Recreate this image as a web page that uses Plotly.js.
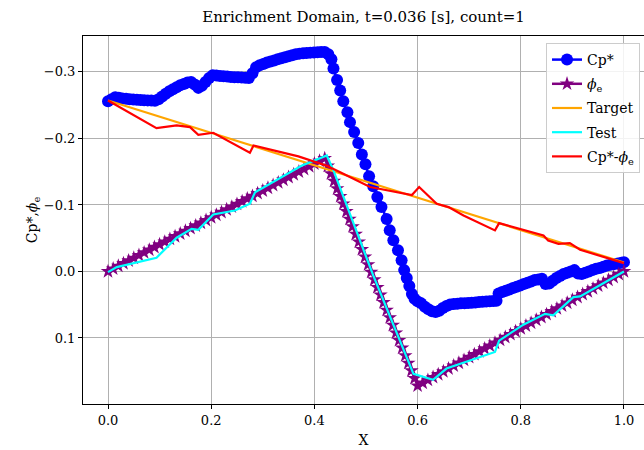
<!DOCTYPE html>
<html>
<head>
<meta charset="utf-8">
<script src="https://cdn.plot.ly/plotly-3.0.1.min.js"></script>
<style>
html,body{margin:0;padding:0;overflow:hidden;background:#fff;}
#chart{width:644px;height:450px;}
</style>
</head>
<body>
<div id="chart"></div>
<script>
// ---- Data ----
const cpX = [0.000,0.007,0.014,0.021,0.028,0.035,0.042,0.049,0.056,0.063,0.070,0.077,0.084,0.091,0.098,0.105,0.112,0.119,0.126,0.133,0.140,0.147,0.154,0.161,0.168,0.175,0.182,0.189,0.196,0.203,0.210,0.217,0.224,0.231,0.238,0.245,0.252,0.259,0.266,0.273,0.280,0.287,0.294,0.301,0.308,0.315,0.322,0.329,0.336,0.343,0.350,0.357,0.364,0.371,0.378,0.385,0.392,0.399,0.406,0.413,0.420,0.427,0.433,0.437,0.444,0.450,0.456,0.464,0.469,0.477,0.485,0.492,0.499,0.506,0.514,0.522,0.530,0.540,0.546,0.553,0.562,0.569,0.574,0.579,0.584,0.589,0.594,0.600,0.607,0.614,0.621,0.628,0.635,0.642,0.649,0.656,0.663,0.670,0.677,0.684,0.691,0.698,0.705,0.712,0.719,0.726,0.733,0.740,0.747,0.753,0.757,0.764,0.771,0.778,0.785,0.792,0.799,0.806,0.813,0.820,0.827,0.834,0.841,0.848,0.855,0.862,0.869,0.876,0.883,0.890,0.897,0.904,0.911,0.918,0.925,0.932,0.939,0.946,0.953,0.960,0.967,0.974,0.981,0.988,0.995,1.000];
const cpY = [-0.256,-0.259,-0.262,-0.261,-0.260,-0.2595,-0.259,-0.2585,-0.258,-0.2578,-0.2575,-0.2572,-0.257,-0.2565,-0.259,-0.263,-0.267,-0.271,-0.274,-0.277,-0.280,-0.282,-0.284,-0.285,-0.281,-0.276,-0.279,-0.285,-0.291,-0.295,-0.2945,-0.294,-0.2935,-0.293,-0.2925,-0.292,-0.2918,-0.2915,-0.2912,-0.291,-0.298,-0.307,-0.310,-0.312,-0.314,-0.3155,-0.317,-0.319,-0.3205,-0.322,-0.3235,-0.325,-0.3265,-0.3275,-0.328,-0.3285,-0.329,-0.3292,-0.3295,-0.3298,-0.330,-0.3265,-0.319,-0.305,-0.288,-0.272,-0.256,-0.2395,-0.2245,-0.2095,-0.193,-0.176,-0.161,-0.143,-0.128,-0.112,-0.097,-0.079,-0.062,-0.047,-0.032,-0.017,-0.002,0.010,0.022,0.034,0.041,0.045,0.048,0.053,0.057,0.060,0.061,0.059,0.055,0.052,0.0496,0.049,0.0485,0.048,0.0478,0.0475,0.047,0.0466,0.046,0.0456,0.0452,0.0448,0.0445,0.044,0.033,0.031,0.029,0.027,0.025,0.023,0.021,0.019,0.017,0.015,0.013,0.012,0.011,0.019,0.018,0.014,0.010,0.007,0.004,0.002,0.000,-0.002,0.003,0.004,0.002,0.000,-0.002,-0.004,-0.005,-0.007,-0.009,-0.010,-0.011,-0.012,-0.013,-0.014];

const phiX = [0.00,0.01,0.02,0.03,0.04,0.05,0.06,0.07,0.08,0.09,0.10,0.11,0.12,0.13,0.14,0.15,0.16,0.17,0.18,0.19,0.20,0.21,0.22,0.23,0.24,0.25,0.26,0.27,0.28,0.29,0.30,0.31,0.32,0.33,0.34,0.35,0.36,0.37,0.38,0.39,0.40,0.41,0.42,
  0.426,0.432,0.438,0.444,0.450,0.456,0.462,0.468,0.474,0.480,0.486,0.492,0.498,0.504,0.510,0.516,0.522,0.528,0.534,0.540,0.546,0.552,0.558,0.564,0.570,0.576,0.582,0.588,0.594,0.600,
  0.61,0.62,0.63,0.64,0.65,0.66,0.67,0.68,0.69,0.70,0.71,0.72,0.73,0.74,0.75,0.76,0.77,0.78,0.79,0.80,0.81,0.82,0.83,0.84,0.85,0.86,0.87,0.88,0.89,0.90,0.91,0.92,0.93,0.94,0.95,0.96,0.97,0.98,0.99,1.00];
const phiY = [0,-0.0040,-0.0081,-0.0121,-0.0162,-0.0202,-0.0243,-0.0283,-0.0324,-0.0364,-0.0405,-0.0445,-0.0486,-0.0526,-0.0567,-0.0607,-0.0648,-0.0688,-0.0729,-0.0769,-0.0810,-0.0850,-0.0890,-0.0931,-0.0971,-0.1012,-0.1052,-0.1093,-0.1133,-0.1174,-0.1214,-0.1255,-0.1295,-0.1336,-0.1376,-0.1417,-0.1457,-0.1498,-0.1538,-0.1579,-0.1619,-0.1660,-0.1700,
  -0.1586,-0.1472,-0.1358,-0.1244,-0.1130,-0.1016,-0.0902,-0.0788,-0.0674,-0.0560,-0.0446,-0.0332,-0.0218,-0.0104,0.0010,0.0124,0.0238,0.0352,0.0466,0.0580,0.0694,0.0808,0.0922,0.1036,0.1150,0.1264,0.1378,0.1492,0.1606,0.1720,
  0.1677,0.1634,0.1591,0.1548,0.1505,0.1462,0.1419,0.1376,0.1333,0.1290,0.1247,0.1204,0.1161,0.1118,0.1075,0.1032,0.0989,0.0946,0.0903,0.0860,0.0817,0.0774,0.0731,0.0688,0.0645,0.0602,0.0559,0.0516,0.0473,0.0430,0.0387,0.0344,0.0301,0.0258,0.0215,0.0172,0.0129,0.0086,0.0043,0.0000];

const targetX = [0.0, 1.0];
const targetY = [-0.257, -0.0135];

const testX = [0.000,0.017,0.094,0.133,0.162,0.175,0.204,0.246,0.275,0.285,0.375,0.424,0.437,0.514,0.592,0.630,0.656,0.750,0.758,0.805,0.847,0.863,0.902,0.915,1.000];
const testY = [0.001,-0.0065,-0.0206,-0.0507,-0.064,-0.0627,-0.0857,-0.0917,-0.1018,-0.119,-0.159,-0.1744,-0.152,0.006,0.154,0.163,0.146,0.121,0.104,0.080,0.0637,0.066,0.0386,0.0376,0.000];

const diffX = [0.000,0.094,0.133,0.159,0.175,0.204,0.275,0.282,0.369,0.424,0.450,0.508,0.589,0.603,0.637,0.660,0.689,0.750,0.758,0.844,0.853,0.873,0.895,0.915,1.000];
const diffY = [-0.257,-0.2155,-0.2195,-0.217,-0.2055,-0.2085,-0.1785,-0.1895,-0.173,-0.159,-0.149,-0.127,-0.115,-0.127,-0.1018,-0.0967,-0.084,-0.0617,-0.0727,-0.054,-0.0466,-0.0416,-0.0426,-0.0326,-0.0125];

const seriesNames = ['Cp*', '<i>ϕ</i><sub>e</sub>', 'Target', 'Test', 'Cp*-<i>ϕ</i><sub>e</sub>'];
const xTickVals = [0.0, 0.2, 0.4, 0.6, 0.8, 1.0];
const xTickText = ['0.0', '0.2', '0.4', '0.6', '0.8', '1.0'];
const yTickVals = [-0.3, -0.2, -0.1, 0.0, 0.1];
const yTickText = ['\u22120.3', '\u22120.2', '\u22120.1', '0.0', '0.1'];

// ---- Chart ----
const FONT = 'DejaVu Serif';
const traces = [
  {x: cpX, y: cpY, name: seriesNames[0], legendgroup: 'g1', mode: 'lines+markers',
   line: {color: '#0000ff', width: 2.5}, marker: {color: '#0000ff', size: 12, symbol: 'circle'}},
  {x: phiX, y: phiY, name: seriesNames[1], legendgroup: 'g2', mode: 'lines+markers',
   line: {color: '#800080', width: 2.5}, marker: {color: '#800080', size: 11, symbol: 'star'}},
  {x: targetX, y: targetY, name: seriesNames[2], legendgroup: 'g3', mode: 'lines',
   line: {color: '#ffa500', width: 2.2}},
  {x: testX, y: testY, name: seriesNames[3], legendgroup: 'g4', mode: 'lines',
   line: {color: '#00ffff', width: 2.2}},
  {x: diffX, y: diffY, name: seriesNames[4], legendgroup: 'g5', mode: 'lines',
   line: {color: '#ff0000', width: 2.2}}
];

const layout = {
  width: 644, height: 450,
  margin: {l: 83, r: 0, t: 36, b: 46, pad: 0},
  paper_bgcolor: '#ffffff', plot_bgcolor: '#ffffff',
  font: {family: FONT, size: 13, color: '#000'},
  title: {text: 'Enrichment Domain, t=0.036 [s], count=1', font: {family: FONT, size: 15, color: '#000'},
          x: 0.5, xref: 'paper', xanchor: 'center', y: 0.963, yref: 'container', yanchor: 'middle'},
  xaxis: {
    range: [-0.04845, 1.0388], tickvals: xTickVals, ticktext: xTickText,
    showgrid: true, gridcolor: '#b0b0b0', gridwidth: 1, zeroline: false,
    showline: true, linecolor: '#000', linewidth: 1, mirror: true,
    ticks: 'outside', ticklen: 4, tickwidth: 1, tickcolor: '#000',
    tickfont: {family: FONT, size: 13, color: '#000'},
    title: {text: 'X', font: {family: FONT, size: 14, color: '#000'}, standoff: 8}
  },
  yaxis: {
    range: [0.1993, -0.354], tickvals: yTickVals, ticktext: yTickText,
    showgrid: true, gridcolor: '#b0b0b0', gridwidth: 1, zeroline: false,
    showline: true, linecolor: '#000', linewidth: 1, mirror: false,
    ticks: 'outside', ticklen: 4, tickwidth: 1, tickcolor: '#000',
    tickfont: {family: FONT, size: 13, color: '#000'},
    title: {text: 'Cp*,<i>ϕ</i><sub>e</sub>', font: {family: FONT, size: 14, color: '#000'}, standoff: 2}
  },
  showlegend: true,
  legend: {
    x: 0.9929, xanchor: 'right', y: 0.981, yanchor: 'top',
    bgcolor: 'rgba(255,255,255,0.85)', bordercolor: '#cccccc', borderwidth: 1,
    font: {family: FONT, size: 14, color: '#000'},
    tracegroupgap: 3, traceorder: 'grouped'
  }
};

Plotly.newPlot('chart', traces, layout, {displayModeBar: false, staticPlot: true});
</script>
</body>
</html>
